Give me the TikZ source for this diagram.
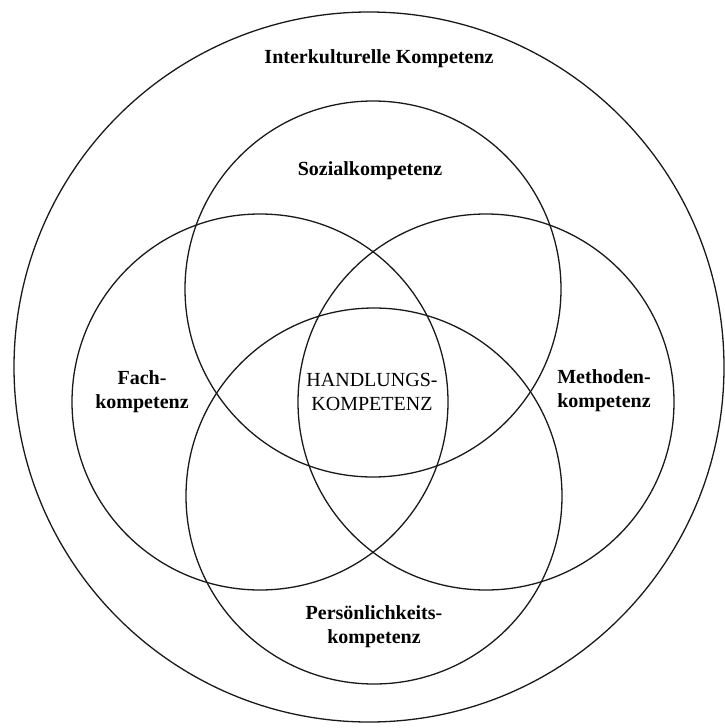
\documentclass[tikz,border=0pt]{standalone}
\usepackage{fontspec}
\setmainfont{Liberation Serif}
\tikzset{
  ring/.style={line width=1.3pt, draw=black!90},
  label/.style={font=\bfseries\fontsize{20}{24}\selectfont, align=center, inner sep=0pt},
  core/.style={font=\fontsize{20}{24}\selectfont, align=center, inner sep=0pt}
}
\begin{document}
\begin{tikzpicture}[x=1pt,y=-1pt]
    \useasboundingbox (0,0) rectangle (724,728);
    \draw[ring] (369,367) circle (355pt);
    \draw[ring] (373,289) circle (188pt);
    \draw[ring] (260,402) circle (188pt);
    \draw[ring] (486,402) circle (188pt);
    \draw[ring] (374,496) circle (188pt);
    \node[label] (inter) at (379,59) {Interkulturelle Kompetenz};
    \node[label] (sozial) at (370,171) {Sozialkompetenz};
    \node[label] (fach) at (142,392) {Fach-\\kompetenz};
    \node[label] (methode) at (604,391) {Methoden-\\kompetenz};
    \node[label] (person) at (374,627) {Persönlichkeits-\\kompetenz};
    \node[core] (handlung) at (372,392) {HANDLUNGS-\\KOMPETENZ};
  \end{tikzpicture}
\end{document}
